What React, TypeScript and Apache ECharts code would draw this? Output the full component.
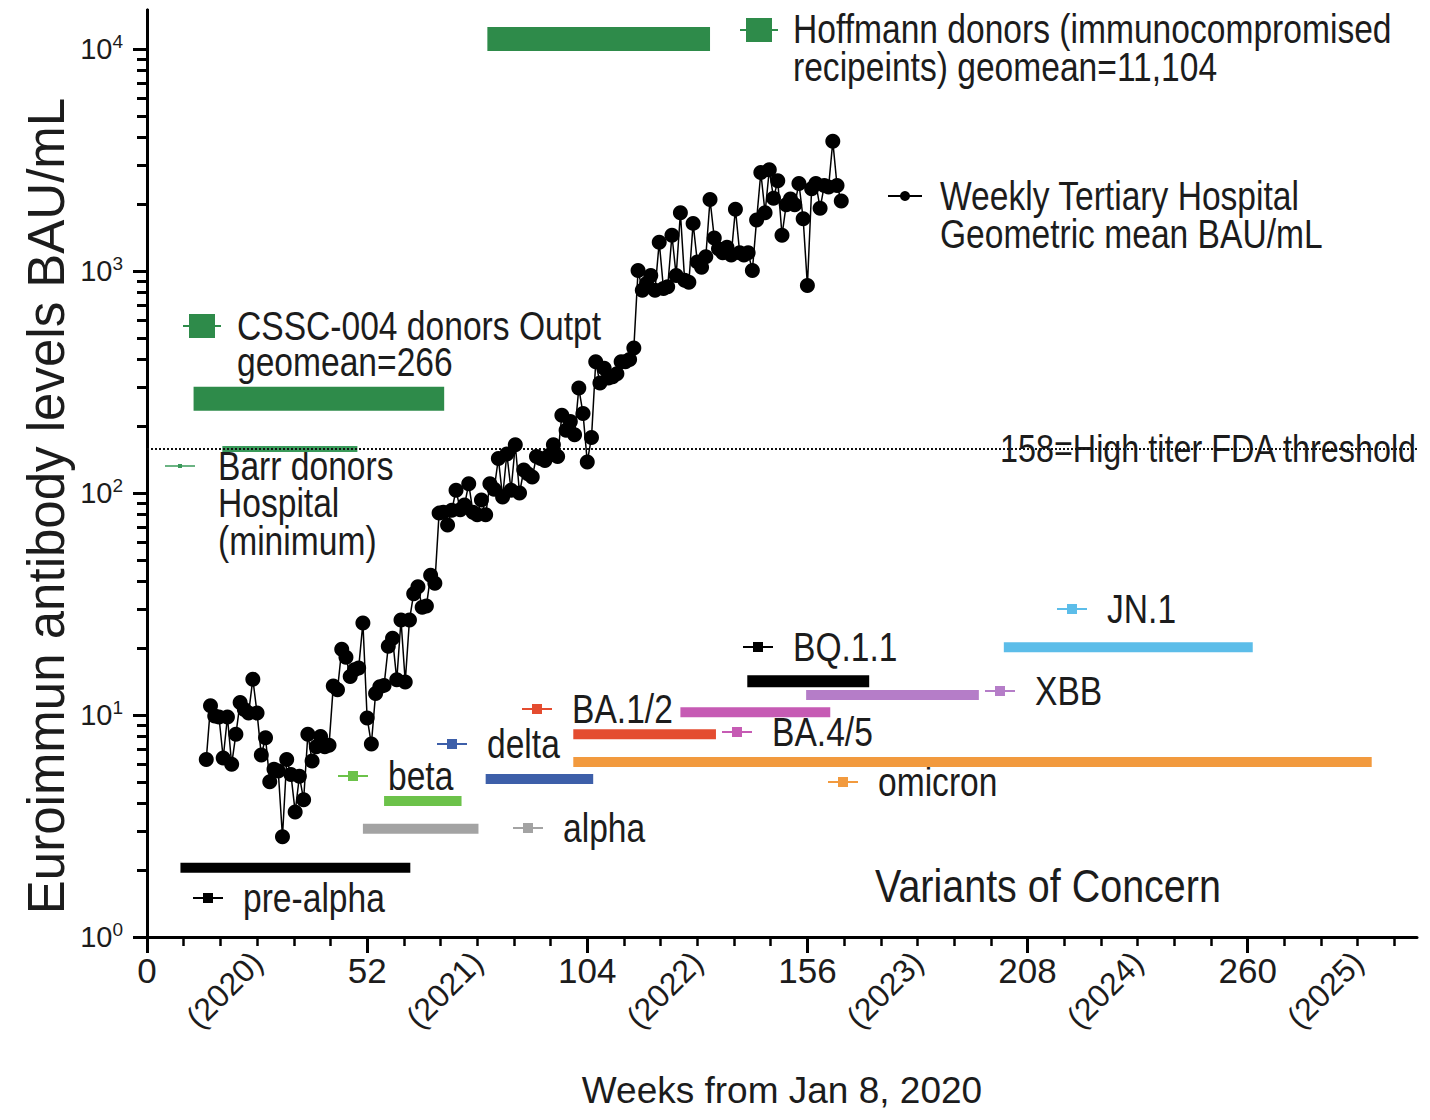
import React, { useEffect, useRef } from "react";
import * as echarts from "echarts";

const FONT = "'Liberation Sans', Arial, sans-serif";
const TXT = "#1c1c1c";

// ---- Weekly tertiary hospital geometric mean (BAU/mL) ----
const weeks = [
  14, 15, 16, 17, 18, 19, 20, 21, 22, 23, 24, 25, 26, 27, 28, 29, 30, 31, 32, 33,
  34, 35, 36, 37, 38, 39, 40, 41, 42, 43, 44, 45, 46, 47, 48, 49, 50, 51, 52, 53,
  54, 55, 56, 57, 58, 59, 60, 61, 62, 63, 64, 65, 66, 67, 68, 69, 70, 71, 72, 73,
  74, 75, 76, 77, 78, 79, 80, 81, 82, 83, 84, 85, 86, 87, 88, 89, 90, 91, 92, 93,
  94, 95, 96, 97, 98, 99, 100, 101, 102, 103, 104, 105, 106, 107, 108, 109, 110, 111, 112, 113,
  114, 115, 116, 117, 118, 119, 120, 121, 122, 123, 124, 125, 126, 127, 128, 129, 130, 131, 132, 133,
  134, 135, 136, 137, 138, 139, 140, 141, 142, 143, 144, 145, 146, 147, 148, 149, 150, 151, 152, 153,
  154, 155, 156, 157, 158, 159, 160, 161, 162, 163, 164,
];
const weeklyGM = [
  6.3, 11.0, 9.9, 9.8, 6.4, 9.8, 6.0, 8.2, 11.4, 10.6, 10.2, 14.5, 10.2, 6.6, 7.9, 5.0, 5.7, 5.6, 2.83, 6.3,
  5.4, 3.66, 5.3, 4.15, 8.2, 6.2, 7.2, 8.0, 7.2, 7.3, 13.5, 13.0, 19.8, 18.2, 14.9, 16.0, 16.3, 26.0, 9.7, 7.4,
  12.5, 13.4, 13.6, 20.4, 22.2, 14.4, 26.8, 14.1, 26.8, 35.2, 37.8, 30.6, 31.0, 42.6, 39.2, 81.2, 82, 71.8, 83.6, 103,
  84, 88.3, 110, 82, 79.8, 93, 79.8, 110, 104, 143, 96, 150, 103, 165, 100, 127, 122, 118, 146, 143,
  140, 148, 165, 146, 224, 192, 210, 183, 297, 228, 138, 178, 390, 313, 365, 330, 334, 345, 390, 390,
  400, 450, 1007, 820, 880, 954, 820, 1350, 835, 850, 1450, 954, 1830, 910, 890, 1640, 1100, 1040, 1160, 2100,
  1410, 1260, 1210, 1280, 1180, 1900, 1210, 1180, 1210, 1007, 1700, 2780, 1830, 2860, 2130, 2550, 1450, 1990, 2110, 1990,
  2480, 1720, 860, 2350, 2480, 1920, 2430, 2390, 3840, 2430, 2070,
];

// ---- Variants of concern (week ranges, plotted level) ----
const variantNames = ["pre-alpha", "alpha", "beta", "delta", "omicron", "BA.1/2", "BA.4/5", "XBB", "BQ.1.1", "JN.1"];
const variantStart = [7.9, 51, 56, 80, 100.7, 100.7, 126, 155.7, 141.8, 202.4];
const variantEnd = [62.2, 78.3, 74.3, 105.4, 289.3, 134.4, 161.4, 196.5, 170.6, 261.2];
const variantLevel = [2.05, 3.07, 4.1, 5.15, 6.14, 8.2, 10.3, 12.3, 14.2, 20.2];

// ---- Donor groups ----
const donorNames = ["Hoffmann donors", "CSSC-004 donors", "Barr donors"];
const donorStart = [80.4, 11, 17.8];
const donorEnd = [133, 70.2, 49.7];
const donorLevel = [11104, 266, 158];

const fdaThreshold = 158;

// ---- Axis ticks ----
const xMajorTicks = [0, 52, 104, 156, 208, 260];
const yearWeeks = [26, 78, 130, 182, 234, 286];
const yearLabels = ["(2020)", "(2021)", "(2022)", "(2023)", "(2024)", "(2025)"];
const yDecades = [1, 10, 100, 1000, 10000];
const yMin = 1;
const yMax = 15000;

// ---- styles ----
const variantColors = ["#000000", "#a3a3a3", "#6cc24a", "#3d5fa9", "#f29a3e", "#e44c30", "#c65bb4", "#b57dc8", "#000000", "#5cbde9"];
const variantWidths = [10, 10, 10, 10, 10, 10, 10, 10, 12, 10];
const donorColors = ["#2e8b4a", "#2e8b4a", "#3a9a5a"];
const donorWidths = [24, 24, 6];

const xMinorTicks: number[] = [];
for (let k = 0; k * 52 / 6 <= 300; k++) xMinorTicks.push(+(k * 52 / 6).toFixed(4));
// minor ticks of the log axis (2..9 x each decade), as exponents for a twin linear axis
const yMinorTicks: number[] = [];
for (let d = 0; d < 4; d++) for (let m = 2; m <= 9; m++) yMinorTicks.push(m * Math.pow(10, d));
const yMinorExp = yMinorTicks.map((v) => +Math.log10(v).toFixed(6));

const SX = 0.84;
function label(x: number, y: number, text: string, size = 40) {
  return {
    type: "text",
    x,
    y,
    scaleX: SX,
    z: 1,
    style: { text, fontSize: size, fontFamily: FONT, fill: TXT, align: "left", verticalAlign: "middle" },
  };
}
function varMarker(cx: number, y: number, color: string) {
  return [
    { type: "line", z: 1, shape: { x1: cx - 15, y1: y, x2: cx + 15, y2: y }, style: { stroke: color, lineWidth: 2 } },
    { type: "rect", z: 1, shape: { x: cx - 5, y: y - 5, width: 10, height: 10 }, style: { fill: color } },
  ];
}
function bigMarker(cx: number, y: number, color: string) {
  return [
    { type: "line", z: 1, shape: { x1: cx - 19, y1: y, x2: cx + 19, y2: y }, style: { stroke: color, lineWidth: 2 } },
    { type: "rect", z: 1, shape: { x: cx - 13, y: y - 12, width: 26, height: 24 }, style: { fill: color } },
  ];
}

// legend-like annotation placement (pixels)
const variantLegendPos: [number, number][] = [
  [208, 898], [528, 828], [353, 776], [452, 744], [843, 782], [537, 709], [737, 732], [1000, 691], [758, 647], [1072, 609],
];

export default function App() {
  const ref = useRef<HTMLDivElement>(null);
  useEffect(() => {
    document.body.style.margin = "0";
    if (!ref.current) return;
    const chart = echarts.init(ref.current, undefined, { renderer: "svg" });

    const series: any[] = [];
    donorNames.forEach((n, i) => {
      series.push({
        type: "line",
        name: n,
        data: [[donorStart[i], donorLevel[i]], [donorEnd[i], donorLevel[i]]],
        symbol: "none",
        lineStyle: { color: donorColors[i], width: donorWidths[i], cap: "butt" },
        silent: true,
        z: 3,
      });
    });
    variantNames.forEach((n, i) => {
      series.push({
        type: "line",
        name: n,
        data: [[variantStart[i], variantLevel[i]], [variantEnd[i], variantLevel[i]]],
        symbol: "none",
        lineStyle: { color: variantColors[i], width: variantWidths[i], cap: "butt" },
        silent: true,
        z: 3,
      });
    });
    series.push({
      type: "line",
      name: "threshold",
      data: [[0, fdaThreshold], [300, fdaThreshold]],
      symbol: "none",
      lineStyle: { color: "#111", width: 2, type: [2, 2] },
      silent: true,
      z: 4,
    });
    series.push({
      type: "line",
      name: "Weekly Tertiary Hospital Geometric mean BAU/mL",
      data: weeks.map((w, i) => [w, weeklyGM[i]]),
      symbol: "circle",
      symbolSize: 15,
      itemStyle: { color: "#000" },
      lineStyle: { color: "#000", width: 1.5 },
      z: 5,
    });

    const graphic: any[] = [];
    graphic.push({
      type: "text",
      x: 46,
      y: 506,
      rotation: Math.PI / 2,
      z: 1,
      style: { text: "Euroimmun antibody levels BAU/mL", fontSize: 51, fontFamily: FONT, fill: TXT, align: "center", verticalAlign: "middle" },
    });
    graphic.push(...bigMarker(759, 30, donorColors[0]));
    graphic.push(label(793, 29, "Hoffmann donors (immunocompromised"));
    graphic.push(label(793, 67, "recipeints) geomean=11,104"));
    graphic.push({ type: "line", z: 1, shape: { x1: 888, y1: 196, x2: 922, y2: 196 }, style: { stroke: "#000", lineWidth: 2 } });
    graphic.push({ type: "circle", z: 1, shape: { cx: 905, cy: 196, r: 5 }, style: { fill: "#000" } });
    graphic.push(label(940, 196, "Weekly Tertiary Hospital"));
    graphic.push(label(940, 234, "Geometric mean BAU/mL"));
    graphic.push(...bigMarker(202, 326, donorColors[1]));
    graphic.push(label(237, 326, "CSSC-004 donors Outpt"));
    graphic.push(label(237, 362, "geomean=266"));
    graphic.push({ type: "line", z: 1, shape: { x1: 165, y1: 466, x2: 195, y2: 466 }, style: { stroke: donorColors[2], lineWidth: 1.5 } });
    graphic.push({ type: "rect", z: 1, shape: { x: 178, y: 464, width: 4, height: 4 }, style: { fill: donorColors[2] } });
    graphic.push(label(218, 466, "Barr donors"));
    graphic.push(label(218, 503, "Hospital"));
    graphic.push(label(218, 541, "(minimum)"));
    graphic.push(label(1000, 449, "158=High titer FDA threshold", 38.5));
    variantNames.forEach((n, i) => {
      const [cx, cy] = variantLegendPos[i];
      graphic.push(...varMarker(cx, cy, variantColors[i]));
      graphic.push(label(cx + 35, cy, n));
    });
    graphic.push(label(875, 886, "Variants of Concern", 47));

    chart.setOption({
      animation: false,
      textStyle: { fontFamily: FONT },
      grid: { left: 147, right: 13, top: 10, bottom: 183, containLabel: false },
      xAxis: [
        {
          type: "value",
          min: 0,
          max: 300,
          position: "bottom",
          axisLine: { show: true, lineStyle: { color: "#000", width: 3 } },
          axisTick: { show: true, customValues: xMajorTicks, length: 16, lineStyle: { color: "#000", width: 3 } },
          axisLabel: { show: true, customValues: xMajorTicks, margin: 16, fontSize: 35, color: TXT, fontFamily: FONT },
          splitLine: { show: false },
          name: "Weeks from Jan 8, 2020",
          nameLocation: "middle",
          nameGap: 135,
          nameTextStyle: { fontSize: 37, color: TXT, fontFamily: FONT },
        },
        {
          type: "value",
          min: 0,
          max: 300,
          position: "bottom",
          axisLine: { show: false },
          axisTick: { show: true, customValues: xMinorTicks, length: 9, lineStyle: { color: "#000", width: 2.5 } },
          axisLabel: { show: false },
          splitLine: { show: false },
        },
        {
          type: "value",
          min: 0,
          max: 300,
          position: "bottom",
          axisLine: { show: false },
          axisTick: { show: false },
          axisLabel: {
            show: true,
            customValues: yearWeeks,
            rotate: 45,
            margin: 20,
            fontSize: 32,
            color: TXT,
            fontFamily: FONT,
            formatter: (v: number) => {
              const i = yearWeeks.indexOf(v);
              return i >= 0 ? yearLabels[i] : "";
            },
          },
          splitLine: { show: false },
        },
      ],
      yAxis: [
        {
          type: "log",
          logBase: 10,
          min: yMin,
          max: yMax,
          position: "left",
          axisLine: { show: true, lineStyle: { color: "#000", width: 3 } },
          axisTick: { show: true, customValues: yDecades, length: 14, lineStyle: { color: "#000", width: 3 } },
          axisLabel: {
            show: true,
            customValues: yDecades,
            margin: 24,
            formatter: (v: number) => `{b|10}{s|${Math.round(Math.log10(v))}}`,
            rich: {
              b: { fontSize: 29, lineHeight: 34, color: TXT, fontFamily: FONT },
              s: { fontSize: 19, lineHeight: 16, verticalAlign: "top", color: TXT, fontFamily: FONT },
            },
          },
          splitLine: { show: false },
        },
        {
          type: "value",
          min: Math.log10(yMin),
          max: Math.log10(yMax),
          position: "left",
          offset: 0,
          axisLine: { show: true, onZero: false, lineStyle: { color: "#000", width: 3 } },
          axisTick: { show: true, customValues: yMinorExp, length: 10, lineStyle: { color: "#000", width: 3 } },
          axisLabel: { show: false },
          splitLine: { show: false },
        },
      ],
      series,
      graphic,
    });
    return () => chart.dispose();
  }, []);
  return <div ref={ref} style={{ width: 1430, height: 1120 }} />;
}
